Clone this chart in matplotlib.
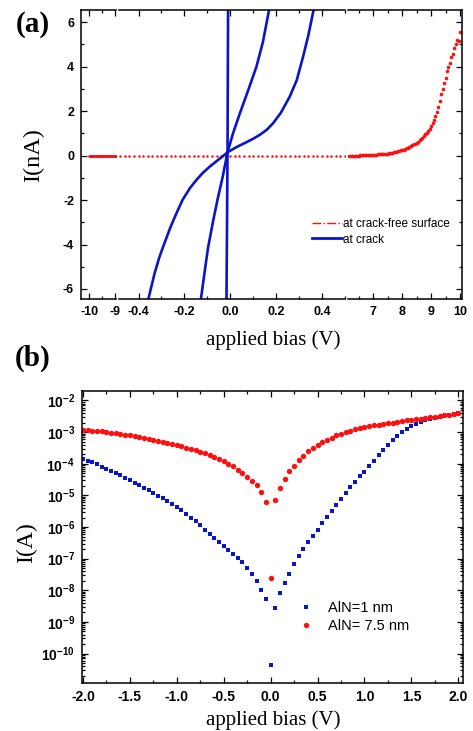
import numpy as np
import matplotlib
matplotlib.use('Agg')
import matplotlib.pyplot as plt
from matplotlib.lines import Line2D
from matplotlib.ticker import MultipleLocator, FuncFormatter, FormatStrFormatter, LogLocator, NullFormatter

plt.rcParams['font.family'] = 'Liberation Sans'
plt.rcParams['axes.unicode_minus'] = False
plt.rcParams['mathtext.fontset'] = 'custom'
plt.rcParams['mathtext.rm'] = 'Liberation Sans:bold'
plt.rcParams['mathtext.it'] = 'Liberation Sans:bold'
plt.rcParams['mathtext.bf'] = 'Liberation Sans:bold'

# ---------------- data, panel (a) ----------------
# three I-V sweeps measured at the crack (V, nA)
crack1_v = [-0.0165, -0.012, -0.0096]
crack1_i = [-6.45, 0.15, 6.55]
crack2_v = [-0.128, -0.112, -0.097, -0.075, -0.055, -0.033, -0.012, 0.012, 0.040, 0.075, 0.114, 0.142, 0.169]
crack2_i = [-6.45, -5.25, -4.15, -2.95, -1.95, -0.95, 0.15, 1.00, 1.85, 2.85, 4.00, 5.10, 6.55]
crack3_v = [-0.357, -0.330, -0.310, -0.292, -0.260, -0.234, -0.208, -0.175, -0.147, -0.120, -0.090,
            -0.060, -0.035, -0.012, 0.030, 0.070, 0.100, 0.128, 0.160, 0.186, 0.220, 0.259, 0.290,
            0.317, 0.340, 0.363]
crack3_i = [-6.45, -5.30, -4.60, -4.08, -3.20, -2.58, -1.99, -1.45, -1.09, -0.78, -0.50,
            -0.25, -0.05, 0.15, 0.40, 0.60, 0.76, 0.93, 1.17, 1.45, 1.92, 2.65, 3.40,
            4.44, 5.40, 6.55]

# crack-free surface: flat at zero (0.02 V steps), then the rise above 6 V
free_flat_v = np.arange(-10.0, 6.2, 0.02)
free_flat_i = np.zeros_like(free_flat_v)
free_rise_v = np.round(np.arange(6.2, 10.001, 0.05), 2)
free_rise_i = [0.00, 0.00, 0.00, 0.00, 0.00, 0.00, 0.00, 0.01, 0.01, 0.01, 0.01, 0.02, 0.02, 0.02, 0.03, 0.03, 0.03,
               0.04, 0.04, 0.05, 0.05, 0.06, 0.06, 0.07, 0.07, 0.08, 0.09, 0.10, 0.11, 0.12, 0.14, 0.16, 0.18, 0.19, 0.21, 0.23, 0.25,
               0.27, 0.30, 0.33, 0.36, 0.39, 0.42, 0.46, 0.50, 0.54, 0.58, 0.63, 0.68, 0.74, 0.80, 0.87, 0.95, 1.03, 1.12, 1.21, 1.32,
               1.45, 1.60, 1.76, 1.95, 2.18, 2.45, 2.75, 3.00, 3.25, 3.50, 3.80, 4.00, 4.15, 4.45, 4.55, 4.85, 5.00, 5.20, 5.15, 5.55]

# ---------------- data, panel (b) ----------------
bias_b = np.round(np.arange(-2.0, 2.0001, 0.05), 2)
# log10 of current (A)
aln1_log = [-3.84, -3.90, -3.96, -4.02, -4.09, -4.16, -4.23, -4.30, -4.37, -4.44,
            -4.52, -4.60, -4.68, -4.76, -4.84, -4.92, -5.01, -5.09, -5.18, -5.27,
            -5.36, -5.47, -5.58, -5.70, -5.82, -5.95, -6.08, -6.21, -6.35, -6.48,
            -6.60, -6.73, -6.85, -6.97, -7.10, -7.30, -7.47, -7.71, -7.99, -8.28,
            -10.36,
            -8.55, -8.10, -7.78, -7.47, -7.18, -6.92, -6.71, -6.48, -6.27, -6.08,
            -5.87, -5.68, -5.49, -5.29, -5.11, -4.92, -4.75, -4.58, -4.40, -4.25,
            -4.08, -3.90, -3.73, -3.56, -3.40, -3.26, -3.12, -3.00, -2.91, -2.82,
            -2.74, -2.68, -2.63, -2.58, -2.55, -2.51, -2.48, -2.45, -2.42, -2.39]
aln75_log = [-2.93, -2.94, -2.95, -2.97, -2.98, -3.00, -3.02, -3.04, -3.06, -3.08,
             -3.10, -3.13, -3.15, -3.18, -3.21, -3.24, -3.27, -3.30, -3.34, -3.38,
             -3.42, -3.45, -3.49, -3.53, -3.57, -3.62, -3.67, -3.73, -3.79, -3.85,
             -3.92, -4.00, -4.08, -4.20, -4.30, -4.41, -4.53, -4.68, -4.89, -5.21,
             -7.60,
             -5.15, -4.77, -4.47, -4.24, -4.06, -3.89, -3.74, -3.61, -3.50, -3.40,
             -3.31, -3.24, -3.17, -3.10, -3.05, -3.00, -2.95, -2.91, -2.87, -2.84,
             -2.81, -2.79, -2.77, -2.75, -2.72, -2.70, -2.68, -2.65, -2.63, -2.61,
             -2.59, -2.57, -2.55, -2.53, -2.51, -2.49, -2.47, -2.45, -2.43, -2.41]

W, H = 473, 731
fig = plt.figure(figsize=(W / 100, H / 100), dpi=100)

def px_axes(x0, x1, y0, y1):
    return fig.add_axes([x0 / W, 1 - y1 / H, (x1 - x0) / W, (y1 - y0) / H])

blue = '#0a14c8'
red = '#ff1010'
serif = 'Liberation Serif'

# ---------------- panel (a): broken x axis ----------------
ax1 = px_axes(81, 116, 10, 299)
ax2 = px_axes(119, 345, 10, 299)
ax3 = px_axes(348, 462, 10, 299)
xlims = [(-10.32, -8.97), (-0.485, 0.5), (6.12, 10.07)]
for ax, xl in zip([ax1, ax2, ax3], xlims):
    ax.plot(free_flat_v, free_flat_i, 'o', ms=1.8, mew=0, color=red)
    ax.plot(crack1_v, crack1_i, '-', lw=1.9, color=blue)
    ax.plot(crack2_v, crack2_i, '-', lw=1.9, color=blue)
    ax.plot(crack3_v, crack3_i, '-', lw=1.9, color=blue)
    ax.set_xlim(xl)
    ax.set_ylim(-6.45, 6.55)
    for s in ax.spines.values():
        s.set_linewidth(1.1)
    ax.tick_params(which='both', direction='in', top=True, width=0.9, labelsize=9, pad=5)
    ax.tick_params(which='major', length=4)
    ax.tick_params(which='minor', length=2)
    ax.yaxis.set_major_locator(MultipleLocator(2))
    ax.yaxis.set_minor_locator(MultipleLocator(1))
ax3.plot(free_rise_v, free_rise_i, 'o', ms=2.6, mew=0, color=red)

ax1.spines['right'].set_visible(False)
ax2.spines['left'].set_visible(False)
ax2.spines['right'].set_visible(False)
ax3.spines['left'].set_visible(False)
ax1.tick_params(axis='y', which='both', right=False)
ax2.tick_params(axis='y', which='both', left=False, right=False, labelleft=False)
ax3.tick_params(axis='y', which='both', left=False, right=True, labelleft=False)

ax1.xaxis.set_major_locator(MultipleLocator(1))
ax1.xaxis.set_minor_locator(MultipleLocator(0.5))
ax2.xaxis.set_major_locator(MultipleLocator(0.2))
ax2.xaxis.set_minor_locator(MultipleLocator(0.1))
ax2.xaxis.set_major_formatter(FormatStrFormatter('%.1f'))
ax3.xaxis.set_major_locator(MultipleLocator(1))
ax3.xaxis.set_minor_locator(MultipleLocator(0.5))
for ax in [ax1, ax2, ax3]:
    for lab in ax.get_xticklabels() + ax.get_yticklabels():
        lab.set_fontweight('bold')

handles = [Line2D([], [], color=red, ls='-.', lw=1.0),
           Line2D([], [], color=blue, ls='-', lw=2.0)]
fig.legend(handles, ['at crack-free surface', 'at crack'], loc='upper left',
           bbox_to_anchor=(312 / W, 1 - 218 / H), frameon=False, fontsize=8.5,
           handlelength=2.5, handletextpad=0.15, labelspacing=0.3, borderpad=0, borderaxespad=0)

fig.text(33 / W, 1 - 24 / H, '(a)', family=serif, weight='bold', fontsize=21, ha='center', va='center')
fig.text(273 / W, 1 - 340 / H, 'applied bias (V)', family=serif, fontsize=15, ha='center', va='center')
fig.text(34 / W, 1 - 155 / H, 'I(nA)', family=serif, fontsize=17.5, ha='center', va='center', rotation=90)

# ---------------- panel (b) ----------------
axb = px_axes(82, 463, 391, 683)
axb.semilogy(bias_b, 10.0 ** np.array(aln1_log), 's', ms=3.5, mew=0, color=blue, label='AlN=1 nm')
axb.semilogy(bias_b, 10.0 ** np.array(aln75_log), 'o', ms=3.9, mew=0, color=red, label='AlN= 7.5 nm')
axb.set_xlim(-2.01, 2.05)
axb.set_ylim(10 ** -10.93, 10 ** -1.7)
axb.xaxis.set_major_locator(MultipleLocator(0.5))
axb.xaxis.set_minor_locator(MultipleLocator(0.25))
axb.xaxis.set_major_formatter(FormatStrFormatter('%.1f'))
axb.yaxis.set_major_locator(LogLocator(base=10, numticks=50))
axb.yaxis.set_minor_locator(LogLocator(base=10, subs=np.arange(2, 10), numticks=50))
axb.yaxis.set_minor_formatter(NullFormatter())
axb.yaxis.set_major_formatter(FuncFormatter(lambda v, p: r'$10^{%d}$' % round(np.log10(v))))
for s in axb.spines.values():
    s.set_linewidth(1.1)
axb.tick_params(which='both', direction='in', top=True, right=True, width=0.9, labelsize=10, pad=5)
axb.tick_params(which='major', length=4)
axb.tick_params(which='minor', length=2)
for lab in axb.get_xticklabels():
    lab.set_fontweight('bold')
axb.legend(loc='upper left', bbox_to_anchor=(300 / W, 1 - 601 / H), bbox_transform=fig.transFigure,
           frameon=False, fontsize=10.5, handlelength=0.8, handletextpad=1.1,
           labelspacing=0.3, borderpad=0, borderaxespad=0)

fig.text(33 / W, 1 - 358 / H, '(b)', family=serif, weight='bold', fontsize=21, ha='center', va='center')
fig.text(273 / W, 1 - 720 / H, 'applied bias (V)', family=serif, fontsize=15, ha='center', va='center')
fig.text(27 / W, 1 - 543 / H, 'I(A)', family=serif, fontsize=17, ha='center', va='center', rotation=90)

fig.savefig('out.png', dpi=100)
